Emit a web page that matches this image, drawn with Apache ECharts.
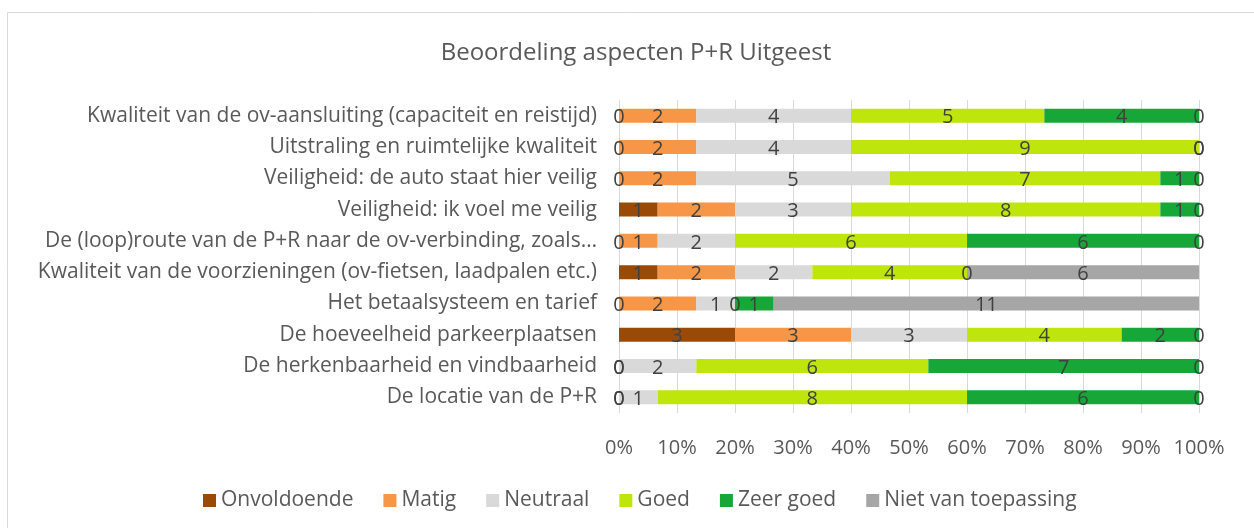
<!DOCTYPE html>
<html>
<head>
<meta charset="utf-8">
<script src="https://cdn.jsdelivr.net/npm/echarts@6/dist/echarts.min.js"></script>
<style>
  html, body { margin: 0; padding: 0; background: #fff; }
  #main { width: 1254px; height: 528px; }
</style>
</head>
<body>
<div id="main"></div>
<script>
  // categories, top to bottom
  var categories = [
    'Kwaliteit van de ov-aansluiting (capaciteit en reistijd)',
    'Uitstraling en ruimtelijke kwaliteit',
    'Veiligheid: de auto staat hier veilig',
    'Veiligheid: ik voel me veilig',
    'De (loop)route van de P+R naar de ov-verbinding, zoals\u2026',
    'Kwaliteit van de voorzieningen (ov-fietsen, laadpalen etc.)',
    'Het betaalsysteem en tarief',
    'De hoeveelheid parkeerplaatsen',
    'De herkenbaarheid en vindbaarheid',
    'De locatie van de P+R'
  ];
  var onvoldoende = [0, 0, 0, 1, 0, 1, 0, 3, 0, 0];
  var matig       = [2, 2, 2, 2, 1, 2, 2, 3, 0, 0];
  var neutraal    = [4, 4, 5, 3, 2, 2, 1, 3, 2, 1];
  var goed        = [5, 9, 7, 8, 6, 4, 0, 4, 6, 8];
  var zeerGoed    = [4, 0, 1, 1, 6, 0, 1, 2, 7, 6];
  var nvt         = [0, 0, 0, 0, 0, 6, 11, 0, 0, 0];
  var xTicks = [0, 10, 20, 30, 40, 50, 60, 70, 80, 90, 100];

  var seriesDefs = [
    { name: 'Onvoldoende', data: onvoldoende, color: '#9a4a07' },
    { name: 'Matig', data: matig, color: '#f79646' },
    { name: 'Neutraal', data: neutraal, color: '#d9d9d9' },
    { name: 'Goed', data: goed, color: '#bee60c' },
    { name: 'Zeer goed', data: zeerGoed, color: '#16a738' },
    { name: 'Niet van toepassing', data: nvt, color: '#a6a6a6' }
  ];

  var totals = categories.map(function (c, i) {
    var t = 0;
    seriesDefs.forEach(function (s) { t += s.data[i]; });
    return t;
  });

  var font = 'Open Sans';

  var myChart = echarts.init(document.getElementById('main'));
  myChart.setOption({
    animation: false,
    title: {
      text: 'Beoordeling aspecten P+R Uitgeest',
      left: 631,
      textAlign: 'center',
      top: 36,
      textStyle: { fontFamily: font, fontSize: 24, fontWeight: 'normal', color: '#595959' }
    },
    graphic: [{
      type: 'rect',
      shape: { x: 7.5, y: 12.5, width: 1300, height: 600 },
      style: { fill: 'none', stroke: '#d9d9d9', lineWidth: 1 },
      silent: true
    }],
    legend: {
      bottom: 12,
      left: 198,
      icon: 'rect',
      itemWidth: 13,
      itemHeight: 13,
      itemGap: 30,
      textStyle: { fontFamily: font, fontSize: 21, color: '#595959' },
      data: seriesDefs.map(function (s) { return s.name; })
    },
    grid: { left: 619, right: 55, top: 100, bottom: 115 },
    xAxis: {
      type: 'value',
      min: xTicks[0],
      max: xTicks[xTicks.length - 1],
      interval: 10,
      axisLine: { show: false },
      axisTick: { show: false },
      splitLine: { lineStyle: { color: '#d9d9d9', width: 1 } },
      axisLabel: {
        formatter: '{value}%',
        margin: 25,
        fontFamily: font, fontSize: 20, color: '#595959'
      }
    },
    yAxis: {
      type: 'category',
      inverse: true,
      data: categories,
      axisLine: { show: false },
      axisTick: { show: false },
      axisLabel: { margin: 22, fontFamily: font, fontSize: 21, color: '#595959' }
    },
    series: seriesDefs.map(function (s) {
      return {
        name: s.name,
        type: 'bar',
        stack: 'total',
        barWidth: 14,
        itemStyle: { color: s.color },
        label: {
          show: true,
          position: 'inside',
          offset: [0, 2],
          fontFamily: font,
          fontSize: 20,
          color: '#404040',
          formatter: function (p) { return p.data.count; }
        },
        data: s.data.map(function (v, i) {
          return { value: v / totals[i] * 100, count: v };
        })
      };
    })
  });
</script>
</body>
</html>
